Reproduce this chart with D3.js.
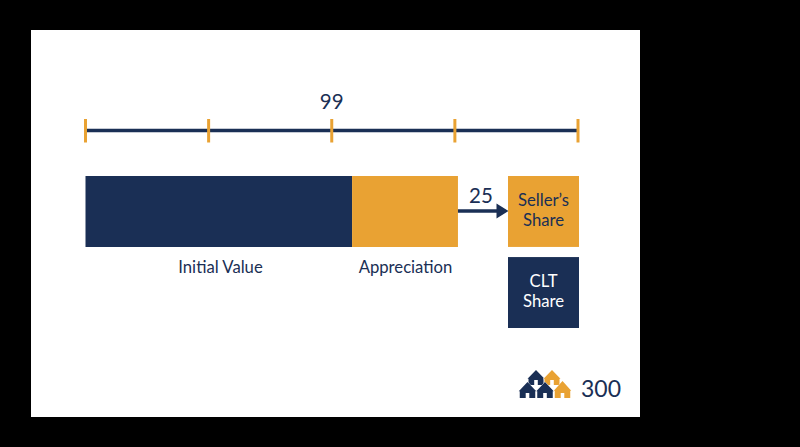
<!DOCTYPE html>
<html><head><meta charset="utf-8">
<script src="https://cdn.jsdelivr.net/npm/d3@7"></script>
<style>html,body{margin:0;padding:0;background:#000}svg{display:block}text{font-family:Lato,"Noto Sans",sans-serif}</style>
</head><body><svg id="c" width="800" height="447"></svg>
<script>
const tickValues = [0, 1, 2, 3, 4];
const topLabel = "99";
const barNames = ["Initial Value", "Appreciation"];
const barValues = [2.165, 0.86];
const shareNames = [["Seller\u2019s", "Share"], ["CLT", "Share"]];
const arrowLabel = "25";
const logoLabel = "300";
const navy = "#1a2f55", gold = "#e9a233";

const svg = d3.select("#c");
svg.append("rect").attr("x", 31).attr("y", 30).attr("width", 609).attr("height", 387).attr("fill", "#fff");

const x = d3.scaleLinear().domain([0, 4]).range([85.5, 578]);

svg.append("line").attr("x1", x(0)).attr("x2", x(4)).attr("y1", 130.5).attr("y2", 130.5)
  .attr("stroke", navy).attr("stroke-width", 3.6);
svg.selectAll(".tick").data(tickValues).join("line").attr("class", "tick")
  .attr("x1", d => x(d)).attr("x2", d => x(d)).attr("y1", 119).attr("y2", 142.5)
  .attr("stroke", gold).attr("stroke-width", 3);
svg.append("text").attr("x", x(2)).attr("y", 109).attr("text-anchor", "middle")
  .attr("font-size", 20.5).attr("fill", navy).text(topLabel);

const cum = d3.cumsum(barValues);
svg.selectAll(".bar").data(barValues).join("rect").attr("class", "bar")
  .attr("x", (d, i) => x(cum[i] - d)).attr("width", d => x(d) - x(0))
  .attr("y", 176).attr("height", 71)
  .attr("fill", (d, i) => i === 0 ? navy : gold);
const labelX = [220.5, 405.5];
svg.selectAll(".barlabel").data(barNames).join("text").attr("class", "barlabel")
  .attr("x", (d, i) => labelX[i]).attr("y", 272.8).attr("text-anchor", "middle")
  .attr("font-size", 16.7).attr("fill", navy).text(d => d);

const ax0 = x(cum[1]);
svg.append("line").attr("x1", ax0).attr("x2", 498).attr("y1", 211).attr("y2", 211)
  .attr("stroke", navy).attr("stroke-width", 3.6);
svg.append("path").attr("d", "M496.5 203.5L508.5 211L496.5 218.5Z").attr("fill", navy);
svg.append("text").attr("x", 481).attr("y", 202.5).attr("text-anchor", "middle")
  .attr("font-size", 20.5).attr("fill", navy).text(arrowLabel);

const y = d3.scaleBand().domain(d3.range(shareNames.length)).range([176, 328]).paddingInner(0.125);
const box = svg.selectAll(".share").data(shareNames).join("g").attr("class", "share");
box.append("rect").attr("x", 508).attr("width", 71)
  .attr("y", (d, i) => y(i)).attr("height", y.bandwidth())
  .attr("fill", (d, i) => i === 0 ? gold : navy);
box.each(function (d, i) {
  d3.select(this).selectAll("text").data(d).join("text")
    .attr("x", 543.5).attr("y", (t, j) => y(i) + 29.5 + j * 20)
    .attr("text-anchor", "middle").attr("font-size", 16.7)
    .attr("fill", i === 0 ? navy : "#fff").text(t => t);
});

const house = (cx, base, w, h) => {
  const r = w / 2, eave = base - h * 0.48;
  return `M${cx - r} ${eave + 1}L${cx} ${base - h}L${cx + r} ${eave + 1}L${cx + r - 1} ${eave + 1}L${cx + r - 1} ${base}` +
    `L${cx + 1.8} ${base}L${cx + 1.8} ${base - 5}L${cx - 1.8} ${base - 5}L${cx - 1.8} ${base}L${cx - r + 1} ${base}L${cx - r + 1} ${eave + 1}Z`;
};
const logo = [
  [536, 385, 17, 15, navy], [552, 385, 17, 15, gold],
  [527.5, 398, 17.5, 16, navy], [545, 398, 17.5, 16, navy], [562.5, 398, 17.5, 17, gold]
];
svg.selectAll(".house").data(logo).join("path").attr("class", "house")
  .attr("d", d => house(d[0], d[1], d[2], d[3])).attr("fill", d => d[4])
  .attr("stroke", "#fff").attr("stroke-width", 0.8).attr("paint-order", "stroke");
svg.append("text").attr("x", 581).attr("y", 397).attr("font-size", 23).attr("fill", navy).text(logoLabel);
</script></body></html>
